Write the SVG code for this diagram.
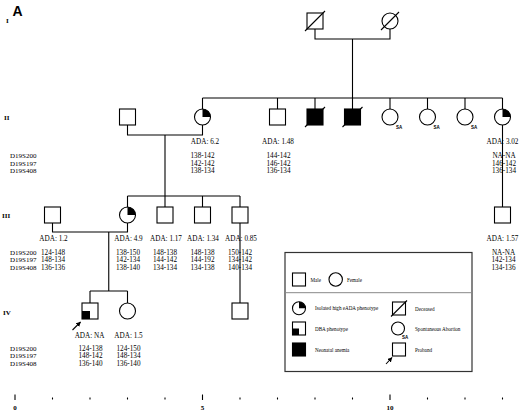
<svg xmlns="http://www.w3.org/2000/svg" width="520" height="411" viewBox="0 0 520 411">
<defs>
<style>
.s{fill:#fff;stroke:#000;stroke-width:1.1}
.f{fill:#000;stroke:#000;stroke-width:1.1}
.k{fill:#000;stroke:none}
.ln{fill:none;stroke:#000;stroke-width:1.1}
text{font-family:"Liberation Serif","Times New Roman",serif;fill:#000}
.t{font-size:7px}
.m{font-size:7.2px;text-anchor:middle}
.g{font-size:7px;font-weight:bold}
.lg{font-size:5.1px}
.sa{font-family:"Liberation Sans",Arial,sans-serif;font-size:4.5px;font-weight:bold}
</style>
<marker id="ah" viewBox="0 0 10 10" refX="9" refY="5" markerWidth="5" markerHeight="5" orient="auto" markerUnits="userSpaceOnUse">
<path d="M0,0 L10,5 L0,10 Z" fill="#000"/>
</marker>
</defs>
<rect width="520" height="411" fill="#fff"/>
<text x="12.5" y="15.5" style="font-family:'Liberation Sans',Arial,sans-serif;font-size:14px;font-weight:bold">A</text>
<text class="g" x="6" y="23">I</text>
<text class="g" x="4" y="119.5">II</text>
<text class="g" x="2" y="217.5">III</text>
<text class="g" x="3" y="315">IV</text>

<g id="connectors">
<path class="ln" d="M315,29 V39 H390 V29 M352.5,39 V98 M202.5,98 H502.5 M202.5,98 V109 M277.5,98 V109 M315,98 V109 M352.5,98 V109 M390,98 V109 M427.5,98 V109 M465,98 V109 M502.5,98 V109"/>
<path class="ln" d="M127.5,125 V135 H202.5 V125 M165,135 V196 M127.5,196 H240 M127.5,196 V207 M165,196 V207 M202.5,196 V207 M240,196 V207"/>
<path class="ln" d="M502.5,125 V207"/>
<path class="ln" d="M52.5,223 V232 H127.5 V223 M108.75,232 V291 M90,291 H127.5 M90,291 V303 M127.5,291 V303"/>
<path class="ln" d="M240,223 V303"/>
</g>

<g id="I-1"><rect class="s" x="307" y="13" width="16" height="16"/><line class="ln" x1="305" y1="31" x2="325" y2="11"/></g>
<g id="I-2"><circle class="s" cx="390" cy="21" r="8"/><line class="ln" x1="381" y1="30" x2="399" y2="12"/></g>

<g id="II-1"><rect class="s" x="119.5" y="109" width="16" height="16"/></g>
<g id="II-2"><circle class="s" cx="202.5" cy="117" r="8"/><path class="k" d="M202.5,117 V109 A8,8 0 0 1 210.5,117 Z"/></g>
<g id="II-3"><rect class="s" x="269.5" y="109" width="16" height="16"/></g>
<g id="II-4"><rect class="f" x="307" y="109" width="16" height="16"/><line class="ln" x1="305" y1="127" x2="325" y2="107"/></g>
<g id="II-5"><rect class="f" x="344.5" y="109" width="16" height="16"/><line class="ln" x1="342.5" y1="127" x2="362.5" y2="107"/></g>
<g id="II-6"><circle class="s" cx="390" cy="117" r="8"/><text class="sa" x="396" y="128.5">SA</text></g>
<g id="II-7"><circle class="s" cx="427.5" cy="117" r="8"/><text class="sa" x="433.5" y="128.5">SA</text></g>
<g id="II-8"><circle class="s" cx="465" cy="117" r="8"/><text class="sa" x="471" y="128.5">SA</text></g>
<g id="II-9"><circle class="s" cx="502.5" cy="117" r="8"/><path class="k" d="M502.5,117 V109 A8,8 0 0 1 510.5,117 Z"/></g>

<g id="III-1"><rect class="s" x="44.5" y="207" width="16" height="16"/></g>
<g id="III-2"><circle class="s" cx="127.5" cy="215" r="8"/><path class="k" d="M127.5,215 V207 A8,8 0 0 1 135.5,215 Z"/></g>
<g id="III-3"><rect class="s" x="157" y="207" width="16" height="16"/></g>
<g id="III-4"><rect class="s" x="194.5" y="207" width="16" height="16"/></g>
<g id="III-5"><rect class="s" x="232" y="207" width="16" height="16"/></g>
<g id="III-6"><rect class="s" x="494.5" y="207" width="16" height="16"/></g>

<g id="IV-1"><rect class="s" x="82" y="303" width="16" height="16"/><rect class="k" x="82" y="311" width="8" height="8"/><line class="ln" x1="72.5" y1="330" x2="80.5" y2="322" marker-end="url(#ah)"/></g>
<g id="IV-2"><circle class="s" cx="127.5" cy="311" r="8"/></g>
<g id="IV-3"><rect class="s" x="232" y="303" width="16" height="16"/></g>

<g id="labels-II">
<text class="t" x="10" y="158">D19S200</text>
<text class="t" x="10" y="165.6">D19S197</text>
<text class="t" x="10" y="173.2">D19S408</text>
<text class="m" x="205" y="144.2">ADA: 6.2</text>
<text class="m" x="202.5" y="158">138-142</text>
<text class="m" x="202.5" y="165.6">142-142</text>
<text class="m" x="202.5" y="173.2">138-134</text>
<text class="m" x="278" y="144.2">ADA: 1.48</text>
<text class="m" x="278.5" y="158">144-142</text>
<text class="m" x="278.5" y="165.6">146-142</text>
<text class="m" x="278.5" y="173.2">136-134</text>
<text class="m" x="502.5" y="144.2">ADA: 3.02</text>
<text class="m" x="504" y="158">NA-NA</text>
<text class="m" x="504" y="165.6">146-142</text>
<text class="m" x="504" y="173.2">136-134</text>
</g>

<g id="labels-III">
<text class="m" x="53.5" y="240.8">ADA: 1.2</text>
<text class="m" x="128.5" y="240.8">ADA: 4.9</text>
<text class="m" x="166" y="240.8">ADA: 1.17</text>
<text class="m" x="203" y="240.8">ADA: 1.34</text>
<text class="m" x="241" y="240.8">ADA: 0.85</text>
<text class="m" x="502.5" y="240.8">ADA: 1.57</text>
<text class="t" x="10" y="254.6">D19S200</text>
<text class="t" x="10" y="262.2">D19S197</text>
<text class="t" x="10" y="269.8">D19S408</text>
<text class="m" x="53" y="254.6">124-148</text>
<text class="m" x="53" y="262.2">148-134</text>
<text class="m" x="53" y="269.8">136-136</text>
<text class="m" x="128" y="254.6">138-150</text>
<text class="m" x="128" y="262.2">142-134</text>
<text class="m" x="128" y="269.8">138-140</text>
<text class="m" x="165" y="254.6">148-138</text>
<text class="m" x="165" y="262.2">144-142</text>
<text class="m" x="165" y="269.8">134-134</text>
<text class="m" x="202.5" y="254.6">148-138</text>
<text class="m" x="202.5" y="262.2">144-192</text>
<text class="m" x="202.5" y="269.8">134-138</text>
<text class="m" x="240" y="254.6">150-142</text>
<text class="m" x="240" y="262.2">134-142</text>
<text class="m" x="240" y="269.8">140-134</text>
<text class="m" x="503.5" y="254.6">NA-NA</text>
<text class="m" x="503.5" y="262.2">142-134</text>
<text class="m" x="503.5" y="269.8">134-136</text>
</g>

<g id="labels-IV">
<text class="m" x="89.5" y="337.5">ADA: NA</text>
<text class="m" x="128.5" y="337.5">ADA: 1.5</text>
<text class="t" x="10" y="350.8">D19S200</text>
<text class="t" x="10" y="358.4">D19S197</text>
<text class="t" x="10" y="366">D19S408</text>
<text class="m" x="90.5" y="350.8">124-138</text>
<text class="m" x="90.5" y="358.4">148-142</text>
<text class="m" x="90.5" y="366">136-140</text>
<text class="m" x="128.5" y="350.8">124-150</text>
<text class="m" x="128.5" y="358.4">148-134</text>
<text class="m" x="128.5" y="366">136-140</text>
</g>

<g id="legend">
<rect x="285" y="252.5" width="187" height="119" fill="none" stroke="#333" stroke-width="1.2"/>
<line x1="285" y1="292.7" x2="472" y2="292.7" stroke="#888" stroke-width="1"/>
<rect class="s" x="292.5" y="273" width="13" height="13"/>
<text class="lg" x="310.5" y="281.5">Male</text>
<circle class="s" cx="335.7" cy="279.5" r="6.7"/>
<text class="lg" x="347" y="281.5">Female</text>
<circle class="s" cx="299" cy="308.3" r="6.5"/>
<path class="k" d="M299,308.3 V301.8 A6.5,6.5 0 0 1 305.5,308.3 Z"/>
<text class="lg" x="315" y="310">Isolated high eADA phenotype</text>
<rect class="s" x="292.5" y="322" width="13" height="13"/>
<rect class="k" x="292.5" y="328.5" width="6.5" height="6.5"/>
<text class="lg" x="315" y="331">DBA phenotype</text>
<rect class="f" x="292.5" y="343" width="13" height="13"/>
<text class="lg" x="315" y="352">Neonatal anemia</text>
<rect class="s" x="392.5" y="302" width="13" height="13"/>
<line class="ln" x1="391" y1="316.5" x2="407" y2="300.5"/>
<text class="lg" x="415" y="310.5">Deceased</text>
<circle class="s" cx="398" cy="328.5" r="6.5"/>
<text class="sa" x="402" y="338.5">SA</text>
<text class="lg" x="415" y="331">Spontaneous Abortion</text>
<rect class="s" x="392.5" y="343" width="13" height="13"/>
<line class="ln" x1="386" y1="364" x2="392" y2="357.5" marker-end="url(#ah)"/>
<text class="lg" x="415" y="352">Proband</text>
</g>

<g id="axis">
<path class="ln" d="M15,394.5 V400 M202.5,394.5 V400 M390,394.5 V400 M52.5,397.5 V399.5 M90,397.5 V399.5 M127.5,397.5 V399.5 M165,397.5 V399.5 M240,397.5 V399.5 M277.5,397.5 V399.5 M315,397.5 V399.5 M352.5,397.5 V399.5 M427.5,397.5 V399.5 M465,397.5 V399.5 M502.5,397.5 V399.5"/>
<text class="g" x="15" y="410" text-anchor="middle">0</text>
<text class="g" x="202.5" y="410" text-anchor="middle">5</text>
<text class="g" x="390" y="410" text-anchor="middle">10</text>
</g>
</svg>
